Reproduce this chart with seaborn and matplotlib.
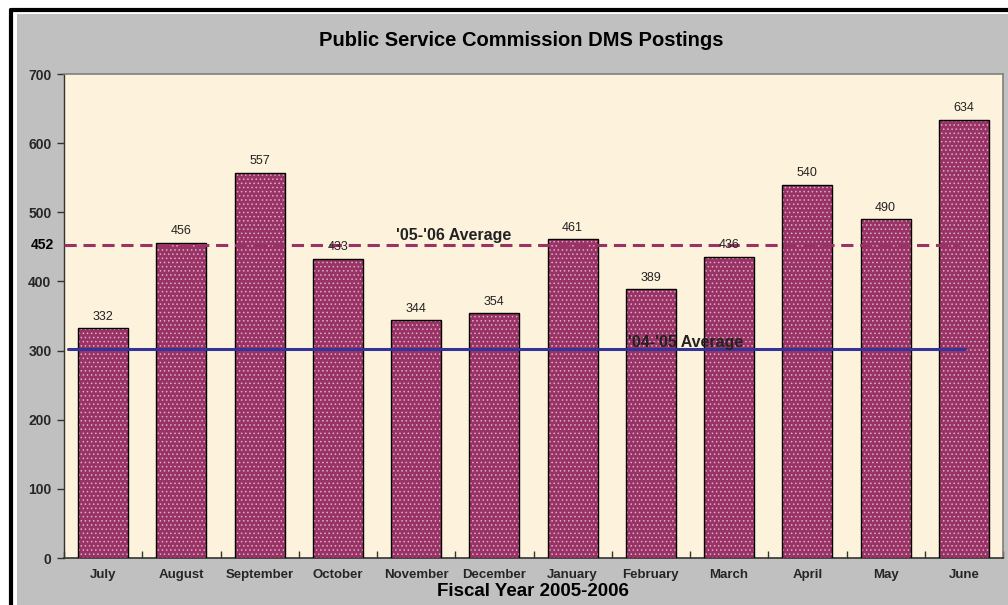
import matplotlib
matplotlib.use("Agg")
import matplotlib.pyplot as plt
import seaborn as sns
import pandas as pd
from matplotlib.patches import Rectangle

months = ["July", "August", "September", "October", "November", "December",
          "January", "February", "March", "April", "May", "June"]
postings = [332, 456, 557, 433, 344, 354, 461, 389, 436, 540, 490, 634]
avg_0506 = 452
avg_0405 = 302
yticks = [0, 100, 200, 300, 400, 500, 600, 700]

df = pd.DataFrame({"month": months, "postings": postings})

sns.set_theme(style="white")
plt.rcParams["font.family"] = ["Liberation Sans", "DejaVu Sans"]
plt.rcParams["hatch.linewidth"] = 0.6

W, H = 1008, 605
fig = plt.figure(figsize=(W / 100, H / 100), dpi=100, facecolor="white")
# gray chart area and black border
fig.add_artist(Rectangle((17 / W, 0), 1, 1 - 14 / H, transform=fig.transFigure,
                         facecolor="#C0C0C0", edgecolor="none", zorder=-5))
fig.add_artist(plt.Line2D([11 / W, 11 / W], [0, 1 - 10 / H], transform=fig.transFigure,
                          color="black", lw=3, zorder=-4))
fig.add_artist(plt.Line2D([11 / W, 1], [1 - 10 / H, 1 - 10 / H], transform=fig.transFigure,
                          color="black", lw=3, zorder=-4))

left, right, top, bottom = 64, 1003, 74, 558
ax = fig.add_axes([left / W, 1 - bottom / H, (right - left) / W, (bottom - top) / H])
ax.set_facecolor("#FDF3DC")

sns.barplot(data=df, x="month", y="postings", color="#993366", saturation=1,
            width=0.64, edgecolor="black", linewidth=1.0, ax=ax, zorder=3)
for p in ax.patches:
    p.set_hatch("....")
    p._hatch_color = (0.86, 0.68, 0.78, 1.0)

for i, v in enumerate(postings):
    ax.text(i, v + 8, str(v), ha="center", va="bottom", fontsize=9, color="#222222", zorder=5)

ax.set_ylim(0, 700)
ax.set_xlim(-0.5, 11.5)
ax.set_yticks(yticks)
ax.set_yticklabels([str(t) for t in yticks], fontsize=10, fontweight="bold")
ax.tick_params(axis="y", direction="out", length=5, width=1, color="#333333", left=True, pad=4)
ax.set_xticks(range(len(months)))
ax.set_xticklabels(months, fontsize=9.5, fontweight="bold")
ax.tick_params(axis="x", length=0, pad=8)
ax.set_xticks([i + 0.5 for i in range(-1, 12)], minor=True)
ax.tick_params(axis="x", which="minor", direction="in", length=5, width=1, color="#333333", bottom=True)

for s in ["top", "right"]:
    ax.spines[s].set_color("#808080")
    ax.spines[s].set_linewidth(1.2)
ax.spines["left"].set_color("#333333")
ax.spines["bottom"].set_color("#333333")
ax.spines["left"].set_linewidth(1.0)
ax.spines["bottom"].set_linewidth(1.2)

# average lines
ax.plot([-0.5, 10.95], [avg_0506, avg_0506], color="#993366", lw=2.2,
        dashes=(4, 2.2), zorder=4)
ax.plot([-0.45, 11.01], [avg_0405, avg_0405], color="#333399", lw=2.2, zorder=4)
ax.text(4.48, avg_0506 + 4, "'05-'06 Average", ha="center", va="bottom",
        fontsize=11.5, fontweight="bold", color="#222222", zorder=5)
ax.text(7.45, avg_0405 - 1, "'04-'05 Average", ha="center", va="bottom",
        fontsize=11.5, fontweight="bold", color="#222222", zorder=5)
ax.annotate(str(avg_0506), xy=(0, avg_0506), xycoords=ax.get_yaxis_transform(),
            xytext=(-7.5, 0), textcoords="offset points",
            ha="right", va="center", fontsize=10, fontweight="bold", color="black")

ax.set_xlabel("")
ax.set_ylabel("")
fig.text(521 / W, 1 - 41 / H, "Public Service Commission DMS Postings", ha="center",
         va="center", fontsize=14.5, fontweight="bold", color="black")
fig.text(533 / W, 1 - 591 / H, "Fiscal Year 2005-2006", ha="center", va="center",
         fontsize=13.5, fontweight="bold", color="black")

fig.savefig("out.png", dpi=100, facecolor=fig.get_facecolor())
